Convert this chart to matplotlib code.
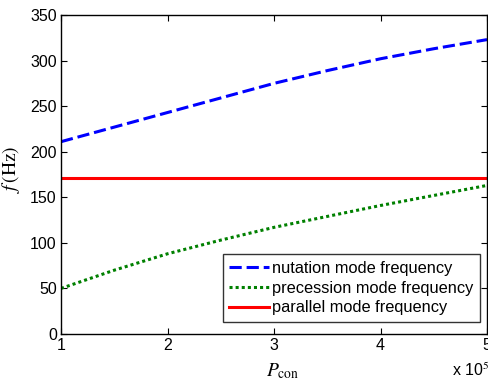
import numpy as np
import matplotlib
matplotlib.use('Agg')
import matplotlib.pyplot as plt

# condenser pressure, in units of 1e5
p_con = [1.0, 1.5, 2.0, 2.5, 3.0, 3.5, 4.0, 4.5, 5.0]
# mode frequencies (Hz)
f_nutation = [211, 227, 243, 259, 275, 289, 302, 313, 323]
f_precession = [50, 70, 88, 103, 117, 129, 141, 152, 163]
f_parallel = [171.5] * len(p_con)

plt.rcParams['font.family'] = ['Liberation Sans', 'DejaVu Sans']
plt.rcParams['mathtext.fontset'] = 'stix'

fig = plt.figure(figsize=(4.88, 3.81), dpi=100)
ax = fig.add_axes([0.125, 0.1234, 0.873, 0.8372])

ax.plot(p_con, f_nutation, color='#0000ff', lw=2.2, ls=(0, (4, 1.6)), label='nutation mode frequency')
ax.plot(p_con, f_precession, color='#008000', lw=2.2, ls=(0, (1, 1)), label='precession mode frequency')
ax.plot(p_con, f_parallel, color='#ff0000', lw=2.2, label='parallel mode frequency')

ax.set_xlim(1, 5)
ax.set_ylim(0, 350)
ax.set_xticks([1, 2, 3, 4, 5])
ax.set_yticks(range(0, 351, 50))
ax.tick_params(direction='in', top=True, right=True, labelsize=11.5, length=4, pad=3)
for s in ax.spines.values():
    s.set_linewidth(1.0)

ax.set_ylabel(r'$f\,(\mathrm{Hz})$', fontsize=14)
ax.yaxis.set_label_coords(-0.092, 0.517)
ax.set_xlabel(r'$P_{\rm con}$', fontsize=14)
ax.xaxis.set_label_coords(0.52, -0.085)
fig.text(452 / 488, 0.006, r'x 10$^5$', ha='left', va='bottom', fontsize=11.5)

leg = ax.legend(loc='lower right', bbox_to_anchor=(0.9836, 0.0376), borderaxespad=0,
                fontsize=11.8, frameon=True, fancybox=False, edgecolor='black',
                handlelength=2.4, borderpad=0.4, labelspacing=0.3, handletextpad=0.2)
leg.get_frame().set_linewidth(1.0)

fig.savefig('out.png', dpi=100)
